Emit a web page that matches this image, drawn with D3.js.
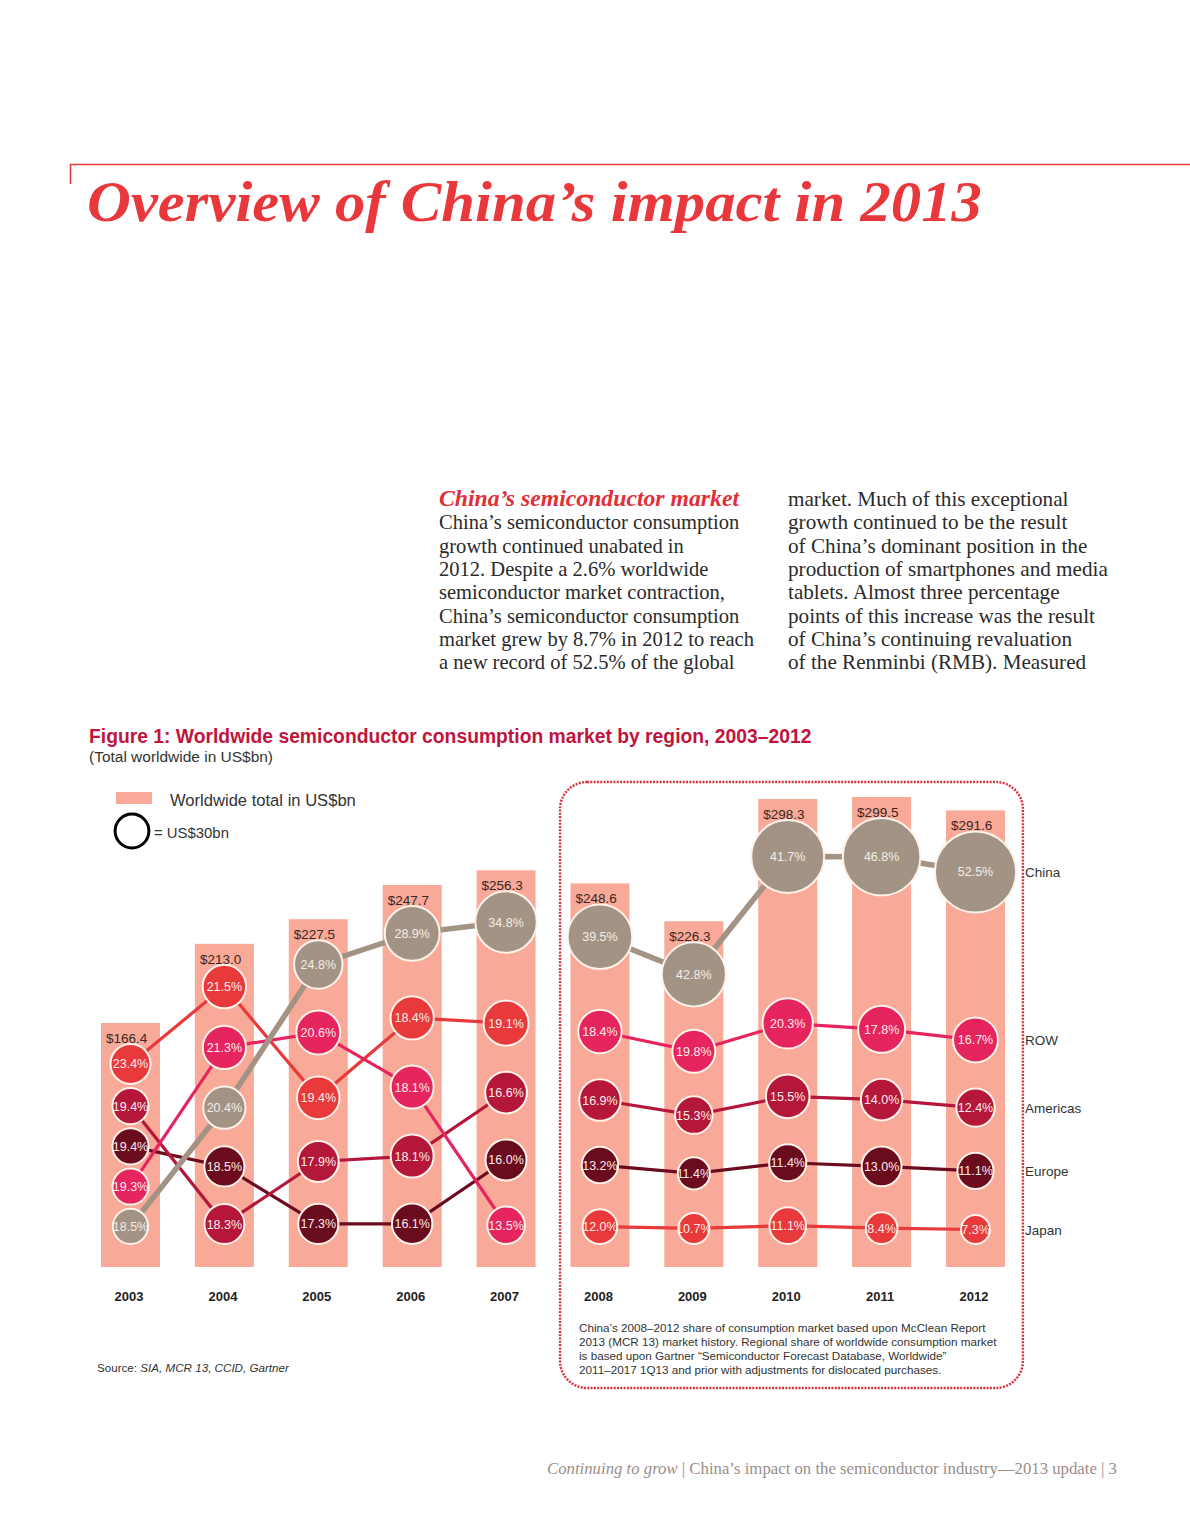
<!DOCTYPE html>
<html><head><meta charset="utf-8">
<script src="https://cdn.jsdelivr.net/npm/d3@7/dist/d3.min.js"></script>
<style>
html,body{margin:0;padding:0;background:#fff;}
svg{display:block;}
</style></head><body>
<svg id="c" width="1190" height="1540"></svg>
<script>
// ---------------- DATA ----------------
const years = ["2003","2004","2005","2006","2007","2008","2009","2010","2011","2012"];
const totals = [166.4, 213.0, 227.5, 247.7, 256.3, 248.6, 226.3, 298.3, 299.5, 291.6];
const regions = ["China","ROW","Americas","Europe","Japan"];
const chinaShare    = [18.5, 20.4, 24.8, 28.9, 34.8, 39.5, 42.8, 41.7, 46.8, 52.5];
const rowShare      = [19.3, 21.3, 20.6, 18.1, 13.5, 18.4, 19.8, 20.3, 17.8, 16.7];
const americasShare = [19.4, 18.3, 17.9, 18.1, 16.6, 16.9, 15.3, 15.5, 14.0, 12.4];
const europeShare   = [19.4, 18.5, 17.3, 16.1, 16.0, 13.2, 11.4, 11.4, 13.0, 11.1];
const japanShare    = [23.4, 21.5, 19.4, 18.4, 19.1, 12.0, 10.7, 11.1,  8.4,  7.3];
const boxedYears = ["2008","2009","2010","2011","2012"];
const legendUnit = 30; // US$bn per legend circle

const pageTitle = "Overview of China\u2019s impact in 2013";
const bodyHeading = "China\u2019s semiconductor market";
const leftColumn = [
  "China\u2019s semiconductor consumption",
  "growth continued unabated in",
  "2012. Despite a 2.6% worldwide",
  "semiconductor market contraction,",
  "China\u2019s semiconductor consumption",
  "market grew by 8.7% in 2012 to reach",
  "a new record of 52.5% of the global"
];
const rightColumn = [
  "market. Much of this exceptional",
  "growth continued to be the result",
  "of China\u2019s dominant position in the",
  "production of smartphones and media",
  "tablets. Almost three percentage",
  "points of this increase was the result",
  "of China\u2019s continuing revaluation",
  "of the Renminbi (RMB). Measured"
];
const figTitle = "Figure 1: Worldwide semiconductor consumption market by region, 2003\u20132012";
const figSubtitle = "(Total worldwide in US$bn)";
const legendBarText = "Worldwide total in US$bn";
const legendCircleText = "= US$30bn";
const noteLines = [
  "China\u2019s 2008\u20132012 share of consumption market based upon McClean Report",
  "2013 (MCR 13) market history. Regional share of worldwide consumption market",
  "is based upon Gartner \u201cSemiconductor Forecast Database, Worldwide\u201d",
  "2011\u20132017 1Q13  and prior with adjustments for dislocated purchases."
];
const sourceLabel = "Source: ";
const sourceItalic = "SIA, MCR 13, CCID, Gartner";
const footerItalic = "Continuing to grow";
const footerRest = " | China\u2019s impact on the semiconductor industry\u20142013 update | 3";

// ---------------- STYLE ----------------
const colors = {China:"#a39385", ROW:"#e6245e", Americas:"#b5173a", Europe:"#6b0b1e", Japan:"#e8393b"};
const barColor = "#f8a997";
const red = "#e8383c";
const sans = "'Liberation Sans', Arial, Helvetica, sans-serif";
const serif = "'Liberation Serif', 'Times New Roman', serif";

const svg = d3.select("#c");

function fitWidth(sel, target){
  const w = sel.node().getComputedTextLength();
  const fs = parseFloat(sel.attr("font-size"));
  sel.attr("font-size", (fs*target/w).toFixed(2));
}
function fitGroup(sels, target){
  let w = 0; sels.forEach(s=>{ w = Math.max(w, s.node().getComputedTextLength()); });
  sels.forEach(s=>{ const fs = parseFloat(s.attr("font-size")); s.attr("font-size",(fs*target/w).toFixed(2)); });
}

// ---------------- PAGE HEADER ----------------
svg.append("path").attr("d","M70.5,184 V164.5 H1190").attr("fill","none").attr("stroke",red).attr("stroke-width",1.6);
svg.append("text").attr("x",87).attr("y",221).attr("font-family",serif).attr("font-weight","bold").attr("font-style","italic")
  .attr("font-size",57).attr("fill",red).attr("textLength",895).attr("lengthAdjust","spacingAndGlyphs").text(pageTitle);

// ---------------- BODY TEXT ----------------
const lh = 23.3, by0 = 506;
const head = svg.append("text").attr("x",439).attr("y",by0).attr("font-family",serif).attr("font-weight","bold").attr("font-style","italic")
  .attr("font-size",20).attr("fill","#e0303a").text(bodyHeading);
fitWidth(head, 300);
const lsel = leftColumn.map((t,i)=> svg.append("text").attr("x",439).attr("y",by0+lh*(i+1)).attr("font-family",serif).attr("font-size",20).attr("fill","#2b2b2b").text(t));
fitGroup(lsel, 315);
const rsel = rightColumn.map((t,i)=> svg.append("text").attr("x",788).attr("y",by0+lh*i).attr("font-family",serif).attr("font-size",20).attr("fill","#2b2b2b").text(t));
fitGroup(rsel, 320);

// ---------------- FIGURE TITLE ----------------
const ft = svg.append("text").attr("x",89).attr("y",743).attr("font-family",sans).attr("font-weight","bold").attr("font-size",17).attr("fill","#c0143c").text(figTitle);
fitWidth(ft, 723);
const fst = svg.append("text").attr("x",89).attr("y",762).attr("font-family",sans).attr("font-size",13).attr("fill","#333").text(figSubtitle);
fitWidth(fst, 184);

// ---------------- SCALES ----------------
const x = d3.scalePoint().domain(years).range([130.5, 975.5]);
const barW = 59;
const y = d3.scaleLinear().domain([22.7, 298.3]).range([1267, 799]);
const r = d3.scaleSqrt().domain([0, legendUnit]).range([0, 18.4]);
const shares = {China:chinaShare, ROW:rowShare, Americas:americasShare, Europe:europeShare, Japan:japanShare};

// ---------------- LAYOUT OF BUBBLES (ranked within each year) ----------------
const nodes = [];
const byRegion = {}; regions.forEach(g=> byRegion[g] = {});
years.forEach((yr,i)=>{
  const items = regions.map((g,k)=>({region:g, k, year:yr, share:shares[g][i], value:shares[g][i]*totals[i]/100}))
    .sort((a,b)=> (b.share - a.share) || (a.k - b.k));
  items.forEach(d=>{ d.r = r(d.value); d.cx = x(yr); });
  const n = items.length;
  const top = y(totals[i]) + 20 + items[0].r;
  const bottom = y.range()[0] - 22 - items[n-1].r;
  let pairs = 0; for(let j=0;j<n-1;j++) pairs += items[j].r + items[j+1].r;
  const gap = Math.min(24, (bottom - top - pairs)/(n-1));
  items[0].cy = top; items[n-1].cy = bottom;
  for(let j=n-2;j>=1;j--) items[j].cy = items[j+1].cy - (items[j].r + items[j+1].r + gap);
  items.forEach(d=>{ nodes.push(d); byRegion[d.region][yr] = d; });
});

// ---------------- BARS ----------------
const gBars = svg.append("g");
gBars.selectAll("rect").data(years).join("rect")
  .attr("x", d=> x(d)-barW/2).attr("width", barW)
  .attr("y", (d,i)=> y(totals[i])).attr("height",(d,i)=> y.range()[0]-y(totals[i]))
  .attr("fill", barColor);
gBars.selectAll("text").data(years).join("text")
  .attr("x", d=> x(d)-barW/2+5).attr("y",(d,i)=> y(totals[i])+20)
  .attr("font-family",sans).attr("font-size",13.5).attr("fill","#3a2626")
  .text((d,i)=> "$"+d3.format(".1f")(totals[i]));

// ---------------- BOX ----------------
const step = x.step();
const bx0 = x(boxedYears[0]) - step*0.425, bx1 = x(boxedYears[boxedYears.length-1]) + step*0.505;
svg.append("rect").attr("x",bx0).attr("y",782).attr("width",bx1-bx0).attr("height",606).attr("rx",27).attr("ry",27)
  .attr("fill","none").attr("stroke","#d8323c").attr("stroke-width",2.4).attr("stroke-dasharray","2 1.3");

// ---------------- LINES ----------------
const periods = [years.filter(d=> !boxedYears.includes(d)), boxedYears];
const line = d3.line().x(d=> d.cx).y(d=> d.cy);
const gLines = svg.append("g").attr("fill","none");
regions.slice().reverse().forEach(g=>{
  periods.forEach(p=>{
    gLines.append("path").attr("d", line(p.map(yr=> byRegion[g][yr])))
      .attr("stroke", colors[g]).attr("stroke-width", g==="China"?5.5:3.2);
  });
});

// ---------------- BUBBLES ----------------
const defs = svg.append("defs");
nodes.forEach((d,i)=>{
  defs.append("clipPath").attr("id","cp"+i).append("circle").attr("cx",d.cx).attr("cy",d.cy).attr("r",d.r-1.5);
});
const gB = svg.append("g");
gB.selectAll("circle").data(nodes).join("circle")
  .attr("cx",d=>d.cx).attr("cy",d=>d.cy).attr("r",d=>d.r-1)
  .attr("fill",d=>colors[d.region]).attr("stroke","#fdf2ea").attr("stroke-width",2);
gB.selectAll("text").data(nodes).join("text")
  .attr("clip-path",(d,i)=>"url(#cp"+i+")")
  .attr("x",d=>d.cx).attr("y",d=>d.cy+4.5).attr("text-anchor","middle")
  .attr("font-family",sans).attr("font-size",12.5)
  .attr("fill",d=> d.region==="China" ? "#f4eee8" : "#fbecec")
  .text(d=> d3.format(".1f")(d.share)+"%");

// ---------------- REGION LABELS ----------------
const lastYear = years[years.length-1];
svg.append("g").selectAll("text").data(regions).join("text")
  .attr("x", bx1+2).attr("y", g=> byRegion[g][lastYear].cy+5)
  .attr("font-family",sans).attr("font-size",13.5).attr("fill","#333").text(g=>g);

// ---------------- YEAR AXIS ----------------
const xAxis = d3.axisBottom(x).tickSize(0).tickPadding(0);
const gx = svg.append("g").attr("transform","translate(-2,1292)").call(xAxis);
gx.select(".domain").remove();
gx.selectAll("text").attr("font-family",sans).attr("font-weight","bold").attr("font-size",13).attr("fill","#222");

// ---------------- LEGEND ----------------
svg.append("rect").attr("x",116).attr("y",792).attr("width",36).attr("height",12).attr("fill",barColor);
const lt1 = svg.append("text").attr("x",170).attr("y",806).attr("font-family",sans).attr("font-size",12.5).attr("fill","#333").text(legendBarText);
fitWidth(lt1, 186);
svg.append("circle").attr("cx",132).attr("cy",831).attr("r",r(legendUnit)-1.5).attr("fill","none").attr("stroke","#000").attr("stroke-width",3);
const lt2 = svg.append("text").attr("x",154).attr("y",838).attr("font-family",sans).attr("font-size",12.5).attr("fill","#333").text(legendCircleText);
fitWidth(lt2, 75);

// ---------------- NOTE & SOURCE ----------------
const nsel = noteLines.map((t,i)=> svg.append("text").attr("x",579).attr("y",1332+14*i).attr("font-family",sans).attr("font-size",10.5).attr("fill","#333").text(t));
fitGroup(nsel, 418);
const src = svg.append("text").attr("x",97).attr("y",1372).attr("font-family",sans).attr("font-size",10.5).attr("fill","#333");
src.append("tspan").text(sourceLabel);
src.append("tspan").attr("font-style","italic").text(sourceItalic);
fitWidth(src, 192);

// ---------------- FOOTER ----------------
const foot = svg.append("text").attr("x",547).attr("y",1474).attr("font-family",serif).attr("font-size",15.5).attr("fill","#9a8e8a");
foot.append("tspan").attr("font-style","italic").text(footerItalic);
foot.append("tspan").text(footerRest);
fitWidth(foot, 570);
</script>
</body></html>
